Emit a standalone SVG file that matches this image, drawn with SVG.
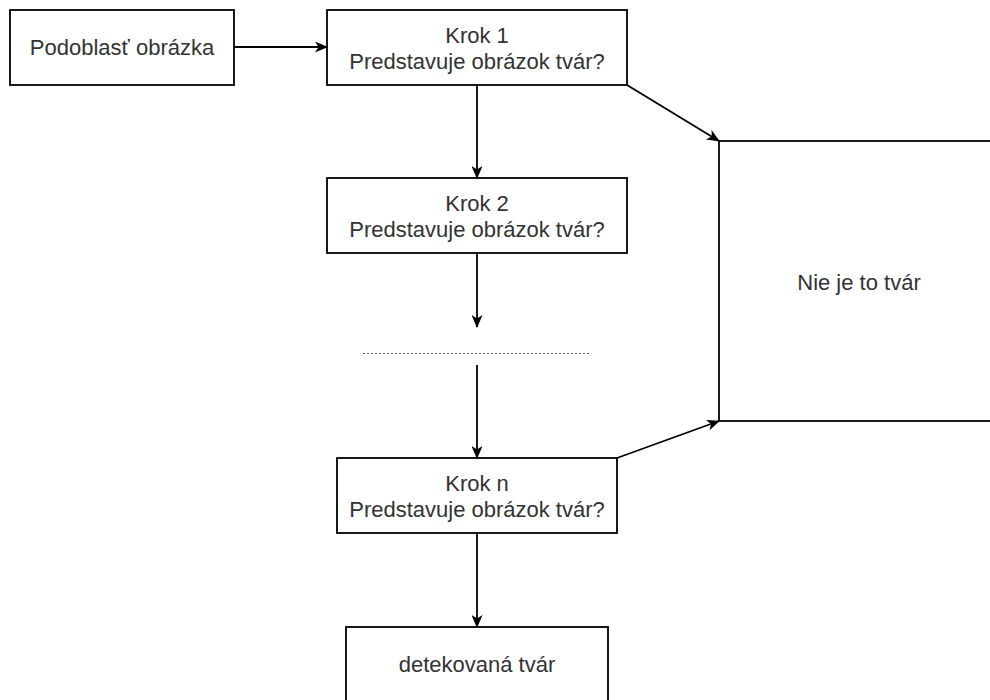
<svg xmlns="http://www.w3.org/2000/svg" width="990" height="700" viewBox="0 0 990 700">
<style>
.box{fill:#fff;stroke:#000;stroke-width:1.8}
.lbl{font-family:"Liberation Sans",Arial,sans-serif;font-size:22px;fill:#333;text-anchor:middle}
.edge{fill:none;stroke:#000;stroke-width:1.8}
.dots{fill:none;stroke:#555;stroke-width:1;stroke-dasharray:2 2}
</style>
<defs>
<marker id="arr" viewBox="0 0 13 11" refX="12" refY="5.5" markerWidth="13" markerHeight="11" markerUnits="userSpaceOnUse" orient="auto">
<path d="M0,0 L13,5.5 L0,11 L3.5,5.5 Z" fill="#000"/>
</marker>
</defs>
<rect width="990" height="700" fill="#fff"/>
<g id="n_podoblast">
<rect class="box" x="10" y="10" width="224" height="75"/>
<text class="lbl" x="122" y="55">Podoblasť obrázka</text>
</g>
<g id="n_krok1">
<rect class="box" x="327" y="10" width="300" height="75"/>
<text class="lbl" x="477" y="43">Krok 1</text>
<text class="lbl" x="477" y="69">Predstavuje obrázok tvár?</text>
</g>
<g id="n_krok2">
<rect class="box" x="327" y="178" width="300" height="75"/>
<text class="lbl" x="477" y="211">Krok 2</text>
<text class="lbl" x="477" y="237">Predstavuje obrázok tvár?</text>
</g>
<g id="n_dots">
<line class="dots" x1="363" y1="353.5" x2="590" y2="353.5"/>
</g>
<g id="n_krokn">
<rect class="box" x="337" y="458" width="280" height="75"/>
<text class="lbl" x="477" y="491">Krok n</text>
<text class="lbl" x="477" y="517">Predstavuje obrázok tvár?</text>
</g>
<g id="n_detekovana">
<rect class="box" x="346" y="627" width="262" height="75"/>
<text class="lbl" x="477" y="672">detekovaná tvár</text>
</g>
<g id="n_nie">
<rect class="box" x="719" y="141" width="290" height="280"/>
<text class="lbl" x="859" y="290">Nie je to tvár</text>
</g>
<g id="connectors">
<line class="edge" x1="234" y1="47" x2="327" y2="47" marker-end="url(#arr)"/>
<line class="edge" x1="477" y1="85" x2="477" y2="178" marker-end="url(#arr)"/>
<line class="edge" x1="477" y1="253" x2="477" y2="327" marker-end="url(#arr)"/>
<line class="edge" x1="477" y1="365" x2="477" y2="458" marker-end="url(#arr)"/>
<line class="edge" x1="477" y1="533" x2="477" y2="627" marker-end="url(#arr)"/>
<line class="edge" x1="627" y1="85" x2="719" y2="141" marker-end="url(#arr)"/>
<line class="edge" x1="617" y1="458" x2="719" y2="421" marker-end="url(#arr)"/>
</g>
</svg>
